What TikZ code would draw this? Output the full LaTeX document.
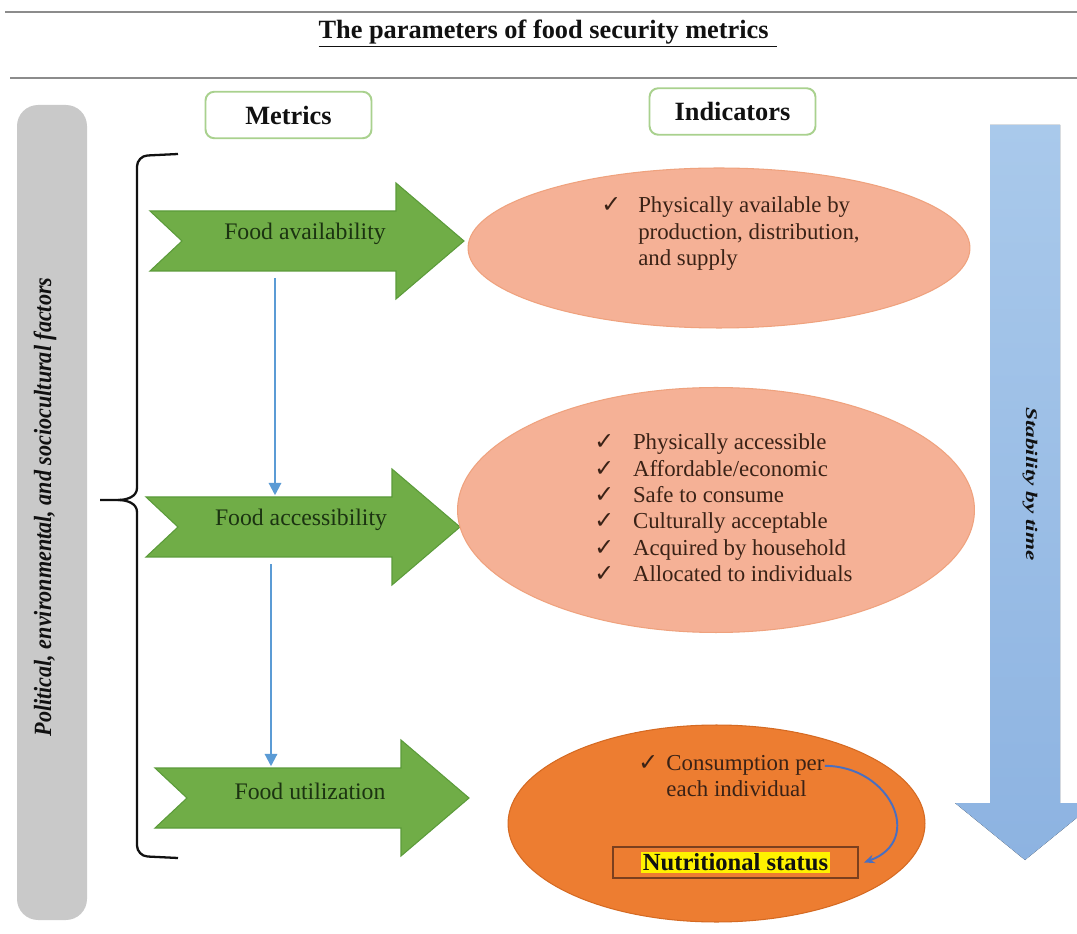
\documentclass[tikz,border=0pt]{standalone}
\usepackage{fontspec}
\setmainfont{Liberation Serif}
\newfontfamily\tickfont{DejaVu Sans}
\usetikzlibrary{arrows.meta, shapes.geometric}
\definecolor{Ink}{HTML}{111111}
\definecolor{RuleGray}{HTML}{8C8C8C}
\definecolor{BoxGreen}{HTML}{A9D18E}
\definecolor{ArrowGreen}{HTML}{70AD47}
\definecolor{ArrowEdge}{HTML}{5B9B3A}
\definecolor{MetricInk}{HTML}{1B3311}
\definecolor{Salmon}{HTML}{F5B196}
\definecolor{SalmonEdge}{HTML}{EFA27E}
\definecolor{Orange}{HTML}{ED7D31}
\definecolor{OrangeEdge}{HTML}{D56A22}
\definecolor{ListInk}{HTML}{3A2216}
\definecolor{Flow}{HTML}{5B9BD5}
\definecolor{CurveBlue}{HTML}{4A6FC0}
\definecolor{SkyTop}{HTML}{A9C9EB}
\definecolor{SkyBottom}{HTML}{8DB3E1}
\definecolor{BarGray}{HTML}{C9C9C9}
\definecolor{NutriEdge}{HTML}{7B3F1E}
\definecolor{Highlight}{HTML}{FFF200}

\newcommand{\tickbox}[1]{\makebox[#1][l]{{\tickfont\fontsize{13.5}{15}\selectfont ✓}}}
\newcommand{\metricarrow}[4]{%
  \fill[metricfill] (#2,#3+30) -- (#2+246,#3+30) -- (#2+246,#3+58) -- (#2+314,#3)
    -- (#2+246,#3-58) -- (#2+246,#3-30) -- (#2,#3-30) -- (#2+32,#3) -- cycle;
  \coordinate (#1-top) at (#2+125,#3+30);
  \coordinate (#1-bot) at (#2+125,#3-30);
  \node[metric] (#1) at (#2+155,#3+7) {#4};}

\begin{document}
\begin{tikzpicture}[
  x=0.02cm, y=0.02cm,
  title/.style={font=\fontsize{15}{18}\selectfont\bfseries, text=Ink},
  rule/.style={draw=RuleGray, line width=1.1pt},
  header/.style={draw=BoxGreen, line width=1.1pt, rounded corners=5pt, fill=white, text=Ink, font=\fontsize{15}{18}\selectfont\bfseries, minimum width=3.32cm, minimum height=0.93cm, inner sep=0pt},
  metric/.style={font=\fontsize{13.5}{16}\selectfont, text=MetricInk, inner sep=0pt},
  metricfill/.style={fill=ArrowGreen, draw=ArrowEdge, line width=0.6pt},
  indicator/.style={ellipse, fill=Salmon, draw=SalmonEdge, line width=0.6pt, inner sep=0pt},
  checklist/.style={font=\fontsize{13}{15}\selectfont, text=ListInk, inner sep=0pt, anchor=west},
  nutribox/.style={draw=NutriEdge, line width=0.8pt, minimum width=4.9cm, minimum height=0.62cm, inner sep=0pt, text=Ink, font=\fontsize{14}{16}\selectfont\bfseries},
  sidetext/.style={text=Ink, inner sep=0pt, font=\fontsize{12.6}{15}\selectfont\bfseries\itshape},
  flow/.style={-{Triangle[length=7pt, width=7pt]}, draw=Flow, line width=1.2pt, shorten <=4pt, shorten >=1pt},
  curve/.style={-{Stealth[length=6pt, width=5pt]}, draw=CurveBlue, line width=1.1pt}
]
\path[use as bounding box, fill=white] (0,0) rectangle (1077,933);
\clip (0,0) rectangle (1077,933);

\draw[rule] (5,921) -- (1077,921);
\draw[rule] (10,855) -- (1077,855);
\node[title] (title) at (548,899) {\underline{The parameters of food security metrics\hspace{5pt}}};

\node[header] (metrics) at (288.5,818) {Metrics};
\node[header] (indicators) at (732.5,821.5) {Indicators};

\fill[BarGray, rounded corners=12pt] (17,13) rectangle (87,828);
\node[sidetext, rotate=90] (factors) at (45,426) {\scalebox{1}[1.12]{Political, environmental, and sociocultural factors}};

\draw[Ink, line width=1.3pt, rounded corners=6pt] (178,779) -- (137,777) -- (137,445);
\draw[Ink, line width=1.3pt] (137,445) to[out=-90, in=0] (118,433) -- (100,433);
\draw[Ink, line width=1.3pt] (118,433) to[out=0, in=90] (137,421);
\draw[Ink, line width=1.3pt, rounded corners=6pt] (137,421) -- (137,77) -- (178,75);

\metricarrow{avail}{150}{692}{Food availability}
\metricarrow{access}{146}{406}{Food accessibility}
\metricarrow{util}{155}{135}{Food utilization}

\draw[flow] (avail-bot) -- (avail-bot |- access-top);
\draw[flow] (access-bot) -- (access-bot |- util-top);

\node[indicator, minimum width=10.04cm, minimum height=3.2cm] (availind) at (719,685) {};
\node[indicator, minimum width=10.34cm, minimum height=4.9cm] (accessind) at (716,423) {};
\node[indicator, fill=Orange, draw=OrangeEdge, minimum width=8.34cm, minimum height=3.94cm] (utilind) at (716.5,109.5) {};

\node[checklist] (availlist) at (601,699) {\begin{tabular}{@{}l@{}l@{}}
\tickbox{21pt} & Physically available by\\
 & production, distribution,\\
 & and supply
\end{tabular}};
\node[checklist] (accesslist) at (594,422.5) {\begin{tabular}{@{}l@{}l@{}}
\tickbox{22pt} & Physically accessible\\
\tickbox{22pt} & Affordable/economic\\
\tickbox{22pt} & Safe to consume\\
\tickbox{22pt} & Culturally acceptable\\
\tickbox{22pt} & Acquired by household\\
\tickbox{22pt} & Allocated to individuals
\end{tabular}};
\node[checklist] (consume) at (638,154.5) {\begin{tabular}{@{}l@{}l@{}}
\tickbox{16pt} & Consumption per\\
 & each individual
\end{tabular}};
\node[nutribox] (nutri) at (735.5,70.5) {{\setlength{\fboxsep}{1.2pt}\colorbox{Highlight}{Nutritional status}}};
\draw[curve] ([yshift=-8pt]consume.north east) to[out=0, in=20, looseness=1.6] ([xshift=3pt]nutri.east);

\fill[top color=SkyTop, bottom color=SkyBottom] (990,808) -- (1060,808) -- (1060,130) -- (1095,130)
  -- (1025,73) -- (955,130) -- (990,130) -- cycle;
\node[sidetext, rotate=-90, font=\fontsize{13.2}{15}\selectfont\bfseries\itshape] (stability) at (1030,449) {\scalebox{1}[0.7]{Stability by time}};
\end{tikzpicture}
\end{document}
